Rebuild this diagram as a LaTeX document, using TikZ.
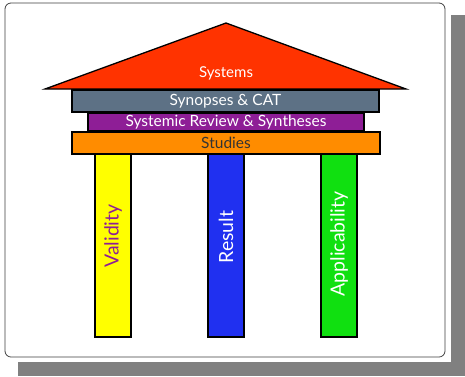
\documentclass[tikz,border=0pt]{standalone}
\usepackage{fontspec}
\setmainfont{Lato}
\usepackage{tikz}

\definecolor{roofred}{HTML}{FF3300}
\definecolor{synopsisgray}{HTML}{5D7185}
\definecolor{reviewpurple}{HTML}{8E1E96}
\definecolor{studyorange}{HTML}{FF8C00}
\definecolor{validyellow}{HTML}{FFFF00}
\definecolor{resultblue}{HTML}{2030F0}
\definecolor{applygreen}{HTML}{10E010}
\definecolor{shadowgray}{HTML}{808080}

\begin{document}
\begin{tikzpicture}[x=1pt,y=-1pt,
  bar/.style={draw,line width=1.3pt,inner sep=0pt,minimum height=22pt,font=\fontsize{15.5}{17}\selectfont},
  pillar/.style={draw,line width=1.3pt,inner sep=0pt,minimum width=36pt,minimum height=183pt},
  pillartext/.style={rotate=90,inner sep=0pt,font=\fontsize{19.5}{21}\selectfont}]

\useasboundingbox (0,0) rectangle (465,376);

% shadow and frame
\fill[shadowgray] (18,15) rectangle (465,376);
\fill[white] (0,0) rectangle (451,362);
\node[draw=black!75,line width=0.8pt,rounded corners=6pt,inner sep=0pt,minimum width=440pt,minimum height=354pt] (frame) at (225,180) {};

% roof
\coordinate (roofleft) at (45,89);
\coordinate (rooftop) at (226,23);
\coordinate (roofright) at (406,89);
\draw[line width=1.3pt,fill=roofred] (roofleft) -- (rooftop) -- (roofright) -- cycle;
\node[white,font=\fontsize{15}{17}\selectfont] (systems) at (226,73) {Systems};

% beam nodes
\node[bar,fill=synopsisgray,text=white,minimum width=307pt] (synopses) at (225.5,101) {Synopses \& CAT};
\node[bar,fill=reviewpurple,text=white,minimum width=276pt,minimum height=18pt] (review) at (226,122) {Systemic Review \& Syntheses};
\node[bar,fill=studyorange,text=black!80,minimum width=308pt] (studies) at (226,143) {Studies};

% pillar nodes
\node[pillar,fill=validyellow] (validity) at (113,245.5) {};
\node[pillar,fill=resultblue] (result) at (226,245.5) {};
\node[pillar,fill=applygreen] (applicability) at (339,245.5) {};

\node[pillartext,text=reviewpurple] at (113,236) {Validity};
\node[pillartext,text=white] at (226,237) {Result};
\node[pillartext,text=white] at (339,244) {Applicability};

\end{tikzpicture}
\end{document}
